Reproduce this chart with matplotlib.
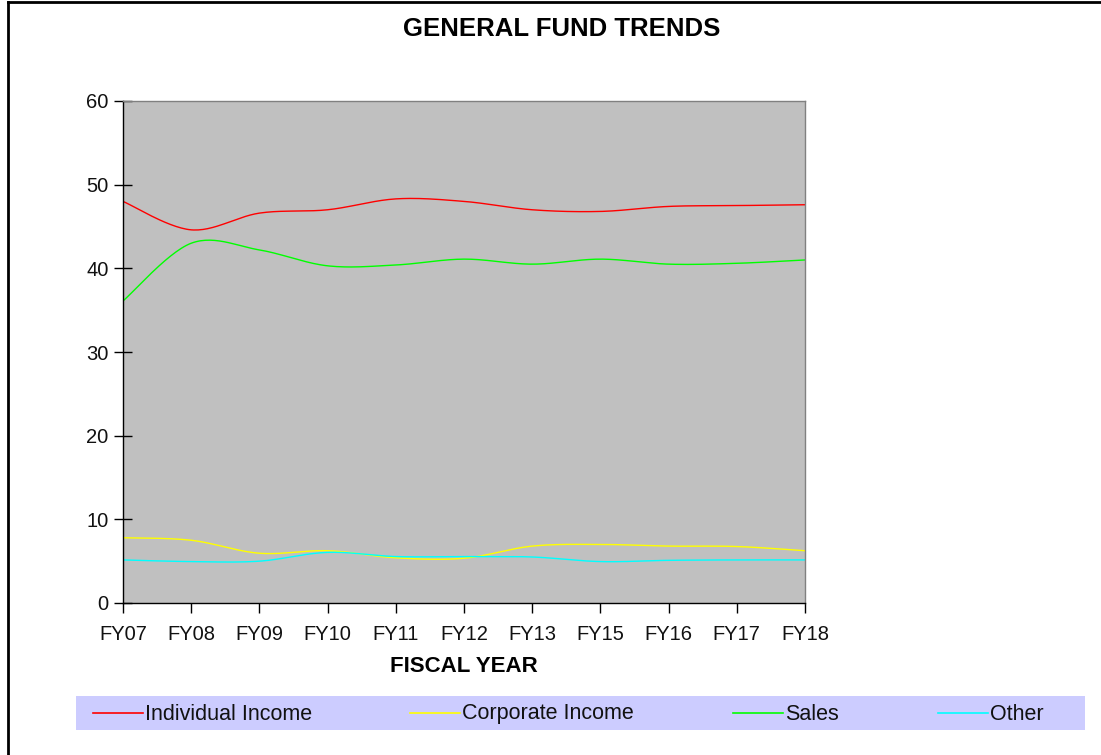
import numpy as np
import matplotlib
matplotlib.use("Agg")
import matplotlib.pyplot as plt
from matplotlib.lines import Line2D
from matplotlib.patches import Rectangle

categories = ["FY07", "FY08", "FY09", "FY10", "FY11", "FY12", "FY13", "FY15", "FY16", "FY17", "FY18"]
individual_income = [48.0, 44.6, 46.6, 47.0, 48.3, 48.0, 47.0, 46.8, 47.4, 47.5, 47.6]
corporate_income = [7.8, 7.5, 5.95, 6.25, 5.4, 5.35, 6.8, 7.0, 6.8, 6.75, 6.25]
sales = [36.1, 43.0, 42.2, 40.3, 40.4, 41.1, 40.5, 41.1, 40.5, 40.6, 41.0]
other = [5.15, 4.95, 5.0, 6.05, 5.55, 5.55, 5.5, 4.95, 5.1, 5.15, 5.15]
series_names = ["Individual Income", "Corporate Income", "Sales", "Other"]
series_colors = ["#FF0000", "#FFFF00", "#00FF00", "#00FFFF"]
y_ticks = [0, 10, 20, 30, 40, 50, 60]

plt.rcParams['font.family'] = ['Liberation Sans', 'DejaVu Sans']

W, H = 1101, 755
fig = plt.figure(figsize=(W / 100, H / 100), dpi=100)
fig.patch.set_facecolor("white")

def fx(px):
    return px / W

def fy(py):
    return 1 - py / H

# plot area: x 123..805, y 101..603
ax = fig.add_axes([fx(123), fy(603), fx(805) - fx(123), fy(101) - fy(603)])
ax.set_facecolor("#C0C0C0")


def smooth(xs, ys, n=30):
    xs = np.asarray(xs, float)
    ys = np.asarray(ys, float)
    px = np.concatenate([[xs[0]], xs, [xs[-1]]])
    py = np.concatenate([[ys[0]], ys, [ys[-1]]])
    out_x, out_y = [], []
    t = np.linspace(0, 1, n)
    for i in range(1, len(px) - 2):
        p0x, p0y = px[i], py[i]
        p3x, p3y = px[i + 1], py[i + 1]
        c1x = p0x + (px[i + 1] - px[i - 1]) / 6
        c1y = p0y + (py[i + 1] - py[i - 1]) / 6
        c2x = p3x - (px[i + 2] - px[i]) / 6
        c2y = p3y - (py[i + 2] - py[i]) / 6
        bx = (1 - t) ** 3 * p0x + 3 * (1 - t) ** 2 * t * c1x + 3 * (1 - t) * t ** 2 * c2x + t ** 3 * p3x
        by = (1 - t) ** 3 * p0y + 3 * (1 - t) ** 2 * t * c1y + 3 * (1 - t) * t ** 2 * c2y + t ** 3 * p3y
        out_x.append(bx)
        out_y.append(by)
    return np.concatenate(out_x), np.concatenate(out_y)

x = np.arange(len(categories))
for vals, col in zip([individual_income, corporate_income, sales, other], series_colors):
    sx, sy = smooth(x, vals)
    ax.plot(sx, sy, color=col, lw=1.0, solid_capstyle="butt")

ax.set_xlim(0, len(categories) - 1)
ax.set_ylim(0, 60)
ax.set_xticks(x)
ax.set_xticklabels(categories)
ax.set_yticks(y_ticks)
ax.tick_params(axis="x", direction="out", length=7, width=1, labelsize=14.5, pad=9, colors="black")
ax.tick_params(axis="y", direction="inout", length=13, width=1, labelsize=14.5, pad=4, colors="black")
for lab in ax.get_xticklabels() + ax.get_yticklabels():
    lab.set_color("#111111")
for s in ["left", "bottom"]:
    ax.spines[s].set_color("black")
    ax.spines[s].set_linewidth(1.0)
for s in ["top", "right"]:
    ax.spines[s].set_color("#808080")
    ax.spines[s].set_linewidth(1.0)

fig.text(fx(562), fy(29), "GENERAL FUND TRENDS", ha="center", va="center",
         fontsize=18.5, fontweight="bold", color="black")
fig.text(fx(464), fy(667), "FISCAL YEAR", ha="center", va="center",
         fontsize=16, fontweight="bold", color="black")

# outer border (left and top)
fig.add_artist(Line2D([fx(8), fx(8)], [0, fy(2)], color="black", lw=2, transform=fig.transFigure))
fig.add_artist(Line2D([fx(8), 1], [fy(2), fy(2)], color="black", lw=2, transform=fig.transFigure))

# legend
fig.add_artist(Rectangle((fx(76), fy(730)), fx(1085) - fx(76), fy(696) - fy(730),
                         facecolor="#CCCCFF", edgecolor="none", transform=fig.transFigure))
leg_x = [93, 410, 733, 938]
for lx, name, col in zip(leg_x, series_names, series_colors):
    fig.add_artist(Line2D([fx(lx), fx(lx + 50)], [fy(713), fy(713)], color=col, lw=1.2,
                          transform=fig.transFigure))
    fig.text(fx(lx + 52), fy(719.5), name, ha="left", va="baseline", fontsize=15.5, color="#111111")

fig.savefig("out.png", dpi=100)
